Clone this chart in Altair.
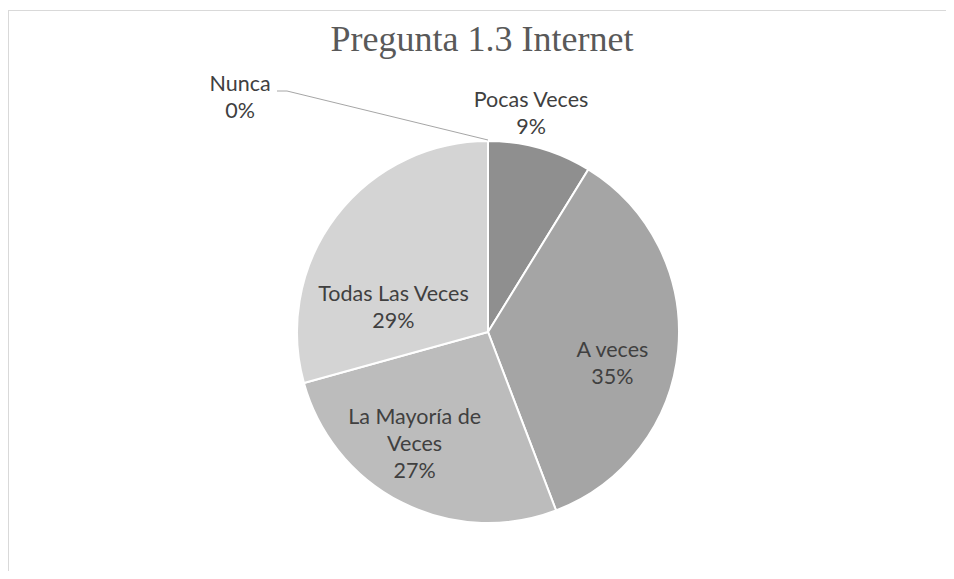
import altair as alt
import pandas as pd

# ---- data ----
categorias = ["Nunca", "Pocas Veces", "A veces", "La Mayoría de Veces", "Todas Las Veces"]
valores = [0, 8.8, 35.4, 26.5, 29.3]
porcentajes = ["0%", "9%", "35%", "27%", "29%"]
etiquetas = ["Nunca", "Pocas Veces", "A veces", "La Mayoría de\nVeces", "Todas Las Veces"]
colores = ["#7f7f7f", "#8f8f8f", "#a5a5a5", "#bcbcbc", "#d4d4d4"]
titulo = "Pregunta 1.3 Internet"

df = pd.DataFrame({
    "categoria": categorias,
    "valor": valores,
    "orden": list(range(len(categorias))),
    "texto": [e + "\n" + p for e, p in zip(etiquetas, porcentajes)],
})
one = pd.DataFrame({"t": [titulo]})

W, H = 938, 563
CX, CY, R = 480, 324, 191
FONT = "Lato"

theta_scale = alt.Scale(domain=[0, 100])

base = alt.Chart(df).transform_window(
    fin="sum(valor)", sort=[alt.SortField("orden")], frame=[None, 0]
).transform_calculate(
    medio="datum.fin - datum.valor / 2"
)

pie = base.mark_arc(radius=R, stroke="white", strokeWidth=2).encode(
    theta=alt.Theta("valor:Q", stack=True, scale=theta_scale),
    order=alt.Order("orden:Q"),
    color=alt.Color("categoria:N", scale=alt.Scale(domain=categorias, range=colores), legend=None),
    x=alt.value(CX),
    y=alt.value(CY),
)

# label placement (radius, dx, dy) per category
placement = {
    "Nunca": (234, -248, -13.5),
    "Pocas Veces": (220, -17, -19),
    "A veces": (125, 0, 7.5),
    "La Mayoría de Veces": (125, -17, -26),
    "Todas Las Veces": (110, -7, 29.5),
}

labels = []
for cat in categorias:
    r, dx, dy = placement[cat]
    labels.append(
        base.transform_filter(alt.datum.categoria == cat).mark_text(
            radius=r, dx=dx, dy=dy, font=FONT, fontSize=21.5, color="#404040",
            lineBreak="\n", align="center", baseline="middle", lineHeight=27,
        ).encode(
            theta=alt.Theta("medio:Q", stack=False, scale=theta_scale),
            text="texto:N",
            x=alt.value(CX),
            y=alt.value(CY),
        )
    )

deco = alt.Chart(one)
frame_top = deco.mark_rule(color="#d9d9d9", strokeWidth=1).encode(
    x=alt.value(0), x2=alt.value(W + 40), y=alt.value(2.5), y2=alt.value(2.5)
)
frame_left = deco.mark_rule(color="#d9d9d9", strokeWidth=1).encode(
    x=alt.value(0.5), x2=alt.value(0.5), y=alt.value(2), y2=alt.value(H + 40)
)
leader1 = deco.mark_rule(color="#a6a6a6", strokeWidth=1).encode(
    x=alt.value(269), x2=alt.value(279), y=alt.value(83), y2=alt.value(83)
)
leader2 = deco.mark_rule(color="#a6a6a6", strokeWidth=1).encode(
    x=alt.value(279), x2=alt.value(480), y=alt.value(83), y2=alt.value(132)
)
title = deco.mark_text(
    font="Liberation Serif", fontSize=36, color="#595959", align="center", baseline="middle"
).encode(text="t:N", x=alt.value(474), y=alt.value(32))

chart = alt.layer(
    frame_top, frame_left, pie, leader1, leader2, *labels, title
).properties(
    width=W, height=H, autosize=alt.AutoSizeParams(type="none"), padding=0
).configure_view(strokeWidth=0, stroke=None)

chart.save("out.html", embed_options={"renderer": "svg", "actions": False})
